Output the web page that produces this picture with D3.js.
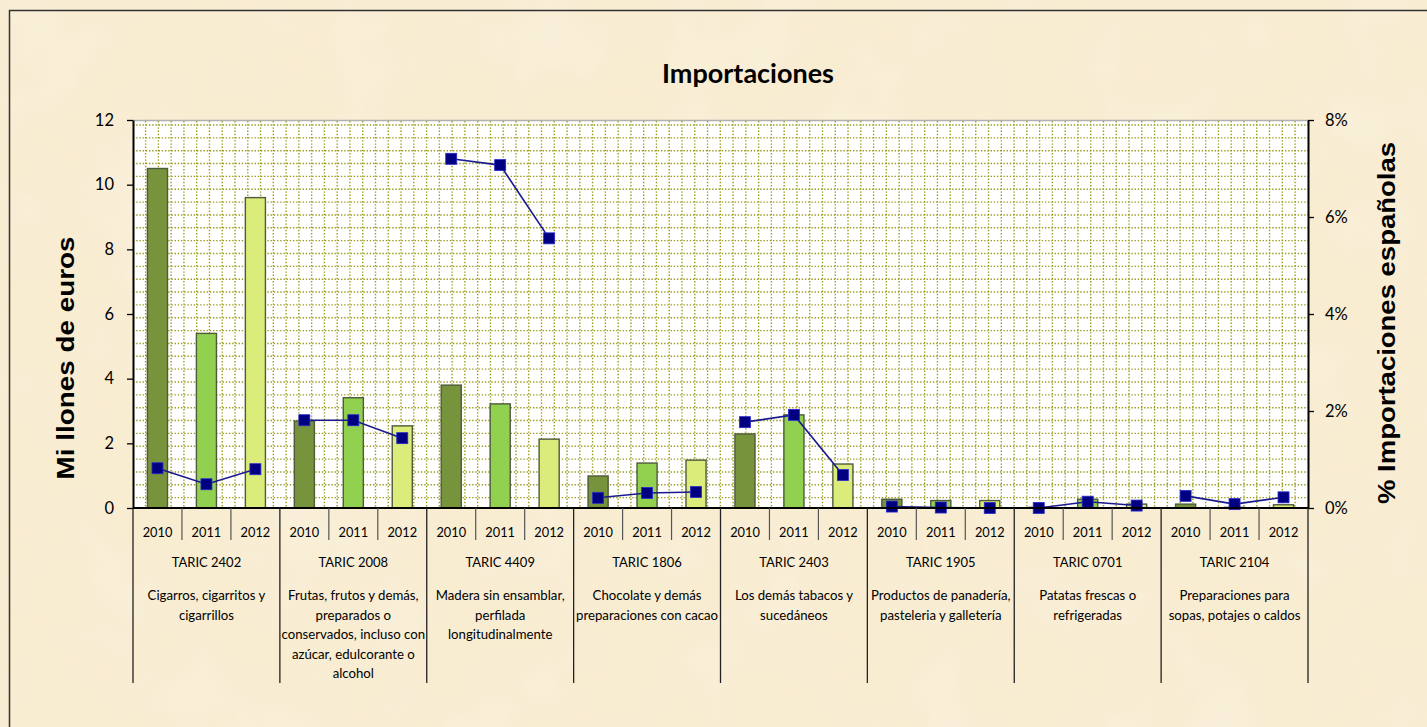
<!DOCTYPE html>
<html><head><meta charset="utf-8">
<script src="https://cdn.jsdelivr.net/npm/d3@7"></script>
<style>
html,body{margin:0;padding:0;background:#f8ecd0;}
svg{display:block;}
</style></head>
<body>
<div id="chart"></div>
<script>
const codes = ["TARIC 2402","TARIC 2008","TARIC 4409","TARIC 1806","TARIC 2403","TARIC 1905","TARIC 0701","TARIC 2104"];
const descriptions = [
  ["Cigarros, cigarritos y","cigarrillos"],
  ["Frutas, frutos y demás,","preparados o","conservados, incluso con","azúcar, edulcorante o","alcohol"],
  ["Madera sin ensamblar,","perfilada","longitudinalmente"],
  ["Chocolate y demás","preparaciones con cacao"],
  ["Los demás tabacos y","sucedáneos"],
  ["Productos de panadería,","pasteleria y galletería"],
  ["Patatas frescas o","refrigeradas"],
  ["Preparaciones para","sopas, potajes o caldos"]
];
const years = ["2010","2011","2012"];
// Millones de euros, per code, per year
const imports2010 = [10.5, 2.69, 3.8, 0.99, 2.29, 0.27, 0.02, 0.12];
const imports2011 = [5.4, 3.41, 3.22, 1.39, 2.88, 0.23, 0.27, 0.02];
const imports2012 = [9.6, 2.54, 2.13, 1.48, 1.36, 0.23, 0.12, 0.10];
// % Importaciones españolas
const share2010 = [0.0082, 0.0181, 0.0720, 0.0021, 0.0177, 0.0003, 0.0000, 0.0025];
const share2011 = [0.0049, 0.0181, 0.0707, 0.0031, 0.0192, 0.0001, 0.0013, 0.0008];
const share2012 = [0.0080, 0.0144, 0.0556, 0.0033, 0.0068, 0.0000, 0.0005, 0.0022];
const leftTicks = [0,2,4,6,8,10,12];
const rightTicks = [0,0.02,0.04,0.06,0.08];

const W = 1427, H = 727;
const L = 133, R = 1308, T = 120, B = 508;
const svg = d3.select("#chart").append("svg").attr("width", W).attr("height", H);
const defs = svg.append("defs");
const f = defs.append("filter").attr("id","paper").attr("x",0).attr("y",0).attr("width","100%").attr("height","100%");
f.append("feTurbulence").attr("type","fractalNoise").attr("baseFrequency","0.012").attr("numOctaves",3).attr("seed",4).attr("result","n");
f.append("feColorMatrix").attr("in","n").attr("type","matrix")
 .attr("values","0 0 0 0 0.99  0 0 0 0 0.96  0 0 0 0 0.88  0 0 0 -1.3 0.75");

svg.append("rect").attr("width",W).attr("height",H).attr("fill","#f8ecd1");
svg.append("rect").attr("width",W).attr("height",H).attr("filter","url(#paper)").attr("opacity",0.45);

// chart border (top / left visible)
svg.append("path").attr("d",`M9.5,727 V10.5 H1427`).attr("fill","none").attr("stroke","#333").attr("stroke-width",1.5);

const data = codes.map((c,i)=>({code:c, desc:descriptions[i],
  vals:[imports2010[i],imports2011[i],imports2012[i]],
  shares:[share2010[i],share2011[i],share2012[i]]}));

const x0 = d3.scaleBand().domain(codes).range([L,R]).padding(0);
const x1 = d3.scaleBand().domain(years).range([0,x0.bandwidth()]).paddingInner(0.59).paddingOuter(0.295);
const y = d3.scaleLinear().domain([0,12]).range([B,T]);
const y2 = d3.scaleLinear().domain([0,0.08]).range([B,T]);

// plot area
svg.append("rect").attr("x",L).attr("y",T).attr("width",R-L).attr("height",B-T).attr("fill","#ffffff");
const grid = svg.append("g").attr("stroke","#9c9c1c").attr("stroke-width",1.4).attr("stroke-dasharray","1.4,1.8");
const gx = d3.range(L+12.6, R-2, (R-L)/92);
const gy = d3.range(T+5, B-2, 12.85);
grid.selectAll("line.v").data(gx).join("line").attr("x1",d=>d).attr("x2",d=>d).attr("y1",T+1).attr("y2",B);
grid.selectAll("line.h").data(gy).join("line").attr("x1",L).attr("x2",R).attr("y1",d=>d).attr("y2",d=>d);
svg.append("line").attr("x1",L).attr("x2",R).attr("y1",T+0.5).attr("y2",T+0.5).attr("stroke","#b0b0b0").attr("stroke-width",1.5);

// bars
const fills = ["#77933c","#92d050","#dbec7b"];
const g = svg.append("g").selectAll("g").data(data).join("g").attr("transform",d=>`translate(${x0(d.code)},0)`);
g.selectAll("rect").data(d=>d.vals.map((v,j)=>({v,j}))).join("rect")
  .attr("x",d=>x1(years[d.j])).attr("width",x1.bandwidth())
  .attr("y",d=>y(d.v)).attr("height",d=>B-y(d.v))
  .attr("fill",d=>fills[d.j]).attr("stroke","#4e5a3a").attr("stroke-width",1.4);

// lines per group
const line = d3.line().x(d=>x1(years[d.j])+x1.bandwidth()/2).y(d=>y2(d.s));
g.append("path").attr("d",d=>line(d.shares.map((s,j)=>({s,j}))))
  .attr("fill","none").attr("stroke","#1a1a90").attr("stroke-width",1.6);
const ms = 11;
g.selectAll("rect.m").data(d=>d.shares.map((s,j)=>({s,j}))).join("rect").attr("class","m")
  .attr("x",d=>x1(years[d.j])+x1.bandwidth()/2-ms/2).attr("y",d=>y2(d.s)-ms/2)
  .attr("width",ms).attr("height",ms).attr("fill","#000080").attr("stroke","#2a2ad0").attr("stroke-width",0.8);

// axes
const font = "Lato, 'Open Sans', sans-serif";
const ax = svg.append("g").attr("transform",`translate(${L},0)`)
  .call(d3.axisLeft(y).tickValues(leftTicks).tickSize(6).tickPadding(13).tickSizeOuter(0));
const ax2 = svg.append("g").attr("transform",`translate(${R},0)`)
  .call(d3.axisRight(y2).tickValues(rightTicks).tickFormat(d3.format(".0%")).tickSize(6).tickPadding(11).tickSizeOuter(0));
[ax,ax2].forEach(a=>{
  a.select(".domain").attr("stroke","#000").attr("stroke-width",2);
  a.selectAll(".tick line").attr("stroke","#000").attr("stroke-width",1.3);
  a.selectAll(".tick text").attr("font-family",font).attr("font-size",16.5).attr("fill","#000");
});
// bottom axis line
svg.append("line").attr("x1",L).attr("x2",R).attr("y1",B).attr("y2",B).attr("stroke","#000").attr("stroke-width",2);

// category axis
const cat = svg.append("g");
data.forEach(d=>{
  [1,2].forEach(j=>{
    const xx = x0(d.code)+j*x0.bandwidth()/3;
    cat.append("line").attr("x1",xx).attr("x2",xx).attr("y1",B).attr("y2",540).attr("stroke","#555").attr("stroke-width",1.2);
  });
});
const gb = codes.map(c=>x0(c)).concat([R]);
cat.selectAll("line.gd").data(gb).join("line").attr("class","gd")
  .attr("x1",d=>d).attr("x2",d=>d).attr("y1",B).attr("y2",683).attr("stroke","#222").attr("stroke-width",1.3);
data.forEach(d=>{
  years.forEach((yr,j)=>{
    cat.append("text").attr("x",x0(d.code)+x1(yr)+x1.bandwidth()/2).attr("y",536.5)
      .attr("text-anchor","middle").attr("font-family",font).attr("font-size",12.8).attr("fill","#000").text(yr);
  });
  const cx = x0(d.code)+x0.bandwidth()/2;
  cat.append("text").attr("x",cx).attr("y",567).attr("text-anchor","middle")
    .attr("font-family",font).attr("font-size",13).attr("fill","#000").text(d.code);
  d.desc.forEach((t,k)=>{
    cat.append("text").attr("x",cx).attr("y",600+k*19.5).attr("text-anchor","middle")
      .attr("font-family",font).attr("font-size",13.2).attr("fill","#000").text(t);
  });
});

// title
svg.append("text").attr("x",748).attr("y",83).attr("text-anchor","middle")
  .attr("font-family",font).attr("font-weight","bold").attr("font-size",27).attr("fill","#000").text("Importaciones");
// axis titles
svg.append("text").attr("transform","translate(74,358) rotate(-90)").attr("text-anchor","middle")
  .attr("font-family","'Liberation Sans', Arial, sans-serif").attr("font-weight","bold").attr("font-size",24)
  .attr("textLength",243).attr("lengthAdjust","spacingAndGlyphs").text("Mi llones de euros");
svg.append("text").attr("transform","translate(1395,323) rotate(-90)").attr("text-anchor","middle")
  .attr("font-family","'Liberation Sans', Arial, sans-serif").attr("font-weight","bold").attr("font-size",24)
  .attr("textLength",362).attr("lengthAdjust","spacingAndGlyphs").text("% Importaciones españolas");
</script>
</body></html>
